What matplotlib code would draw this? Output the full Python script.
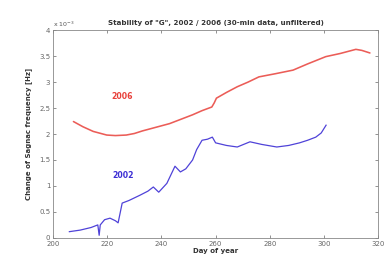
import numpy as np
import matplotlib
matplotlib.use("Agg")
import matplotlib.pyplot as plt

# day of year vs change of Sagnac frequency (x 1e-3 Hz)
day_2006 = [207.5, 211, 214.8, 219.8, 223, 227, 230, 233, 238, 243, 247, 251.5, 255,
            258.6, 259.5, 260.3, 264, 268, 272, 276, 282, 288.6, 294, 300.7, 306, 311.8, 314, 317]
val_2006 = [2.24, 2.14, 2.05, 1.98, 1.97, 1.98, 2.01, 2.06, 2.13, 2.2, 2.28, 2.37, 2.45,
            2.52, 2.6, 2.69, 2.8, 2.91, 3.0, 3.1, 3.16, 3.23, 3.35, 3.49, 3.55, 3.63, 3.61, 3.56]

day_2002 = [206, 210, 214, 216.5, 217, 217.4, 219, 221, 223, 224, 225.5, 228, 232, 235,
            237, 239, 242, 245, 247, 249, 251.5, 253, 255, 257, 258.8, 260, 264, 268,
            272.7, 277, 282.6, 287, 291, 294, 297, 299, 300.8]
val_2002 = [0.12, 0.15, 0.2, 0.25, 0.05, 0.25, 0.35, 0.38, 0.33, 0.29, 0.67, 0.72, 0.82, 0.9,
            0.98, 0.88, 1.05, 1.38, 1.27, 1.33, 1.5, 1.7, 1.88, 1.9, 1.94, 1.83, 1.78, 1.75,
            1.85, 1.8, 1.75, 1.78, 1.83, 1.88, 1.94, 2.02, 2.17]

RED = "#e8403a"
BLUE = "#3c2ed4"
GREY = "#555555"

fig = plt.figure(figsize=(3.85, 2.62), dpi=100)
ax = fig.add_axes([0.138, 0.092, 0.844, 0.793])
ax.plot(day_2006, val_2006, color=RED, lw=1.15, alpha=0.85, solid_capstyle="round")
ax.plot(day_2002, val_2002, color=BLUE, lw=0.9, alpha=0.9)

ax.text(225.5, 2.72, "2006", color=RED, fontsize=5.6, fontweight="bold", ha="center", va="center")
ax.text(225.8, 1.21, "2002", color=BLUE, fontsize=5.6, fontweight="bold", ha="center", va="center")

ax.set_xlim(200, 320)
ax.set_ylim(0, 4)
ax.set_xticks(np.arange(200, 321, 20))
ax.set_yticks(np.arange(0, 4.01, 0.5))
ax.set_yticklabels(["0", "0.5", "1", "1.5", "2", "2.5", "3", "3.5", "4"])
ax.tick_params(labelsize=5, colors="#666666", direction="in", length=2, width=0.5, pad=2)
ax.tick_params(top=True, right=True)
for sp in ax.spines.values():
    sp.set_color("#888888"); sp.set_linewidth(0.6)

ax.text(0.0, 1.005, r"x 10$^{-3}$", transform=ax.transAxes, fontsize=4.5, color=GREY,
        ha="left", va="bottom")
ax.set_title('Stability of "G", 2002 / 2006 (30-min data, unfiltered)', fontsize=5.1,
             fontweight="bold", color="#333333", pad=4)
ax.set_xlabel("Day of year", fontsize=5, fontweight="bold", color="#333333", labelpad=1)
ax.set_ylabel("Change of Sagnac frequency [Hz]", fontsize=5, fontweight="bold",
              color="#333333", labelpad=5)

fig.savefig("out.png", dpi=100, facecolor="#ffffff")
